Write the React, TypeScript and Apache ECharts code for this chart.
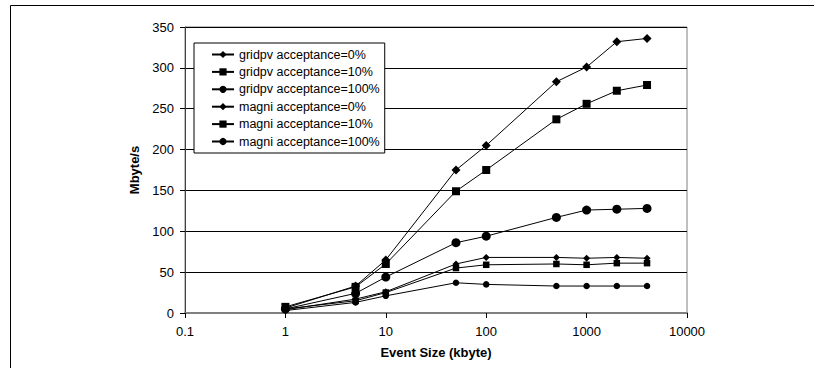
import React, { useEffect, useRef } from "react";
import * as echarts from "echarts";

const eventSizes = [1, 5, 10, 50, 100, 500, 1000, 2000, 4000];
const seriesNames = [
  "gridpv acceptance=0%",
  "gridpv acceptance=10%",
  "gridpv acceptance=100%",
  "magni acceptance=0%",
  "magni acceptance=10%",
  "magni acceptance=100%",
];
const gridpv0 = [6, 33, 65, 175, 205, 283, 301, 332, 336];
const gridpv10 = [7.5, 32, 60, 149, 175, 237, 256, 272, 279];
const gridpv100 = [5, 24, 44, 86, 94, 117, 126, 127, 128];
const magni0 = [4, 17, 26, 60, 68, 68, 67, 68, 67];
const magni10 = [5, 15, 25, 55, 59, 60, 59, 61, 61];
const magni100 = [3, 13, 21, 37, 35, 33, 33, 33, 33];
const xTickLabels = ["0.1", "1", "10", "100", "1000", "10000"];

const seriesValues = [gridpv0, gridpv10, gridpv100, magni0, magni10, magni100];
const symbols = ["diamond", "rect", "circle", "diamond", "rect", "circle"];
const symbolSizes = [9, 8, 9, 7, 6.5, 6.5];

const FONT = "'Liberation Sans', Arial, sans-serif";

export default function App() {
  const ref = useRef<HTMLDivElement>(null);
  useEffect(() => {
    document.body.style.margin = "0";
    if (!ref.current) return;
    const chart = echarts.init(ref.current, null, { renderer: "svg" });
    const series = seriesValues.map((vals, i) => ({
      name: seriesNames[i],
      type: "line",
      data: eventSizes.map((x, j) => [x, vals[j]]),
      symbol: symbols[i],
      symbolSize: symbolSizes[i],
      showSymbol: true,
      lineStyle: { color: "#000", width: 1 },
      itemStyle: { color: "#000", borderColor: "#000", borderWidth: 0 },
      emphasis: { disabled: true },
    }));
    chart.setOption({
      animation: false,
      backgroundColor: "#fff",
      textStyle: { fontFamily: FONT },
      grid: {
        left: 185,
        right: 127,
        top: 27,
        bottom: 55,
        show: true,
        borderColor: "#808080",
        borderWidth: 1,
        backgroundColor: "transparent",
      },
      legend: {
        orient: "vertical",
        left: 194,
        top: 43,
        data: seriesNames,
        itemWidth: 22,
        itemHeight: 9,
        itemGap: 4.4,
        padding: [5, 5, 5, 17],
        borderColor: "#000",
        borderWidth: 1,
        backgroundColor: "#fff",
        selectedMode: false,
        textStyle: { fontFamily: FONT, fontSize: 12.5, color: "#000", lineHeight: 11, padding: [0, 0, 0, 0] },
      },
      xAxis: {
        type: "log",
        logBase: 10,
        min: 0.1,
        max: 10000,
        name: "Event Size (kbyte)",
        nameLocation: "middle",
        nameGap: 33,
        nameTextStyle: { fontFamily: FONT, fontSize: 13, fontWeight: "bold", color: "#000" },
        axisLine: { show: true, lineStyle: { color: "#808080", width: 2 } },
        axisTick: { show: true, inside: false, length: 5, lineStyle: { color: "#000" } },
        axisLabel: {
          margin: 12,
          fontFamily: FONT,
          fontSize: 13,
          color: "#000",
          formatter: (v: number) => {
            const idx = Math.round(Math.log10(v)) + 1;
            return xTickLabels[idx] ?? String(v);
          },
        },
        splitLine: { show: false },
        minorTick: { show: false },
      },
      yAxis: {
        type: "value",
        min: 0,
        max: 350,
        interval: 50,
        name: "Mbyte/s",
        nameLocation: "middle",
        nameGap: 41,
        nameTextStyle: { fontFamily: FONT, fontSize: 13, fontWeight: "bold", color: "#000" },
        axisLine: { show: true, lineStyle: { color: "#404040", width: 1 } },
        axisTick: { show: true, inside: false, length: 5, lineStyle: { color: "#000" } },
        axisLabel: { margin: 11, fontFamily: FONT, fontSize: 13, color: "#000" },
        splitLine: { show: true, lineStyle: { color: "#000", width: 1 } },
      },
      graphic: [
        {
          type: "polyline",
          shape: { points: [[10.5, 368], [10.5, 5.5], [814, 5.5]] },
          style: { stroke: "#000", lineWidth: 1, fill: null },
          silent: true,
        },
      ],
      series,
    });
    return () => chart.dispose();
  }, []);
  return <div ref={ref} style={{ width: 814, height: 368 }} />;
}
